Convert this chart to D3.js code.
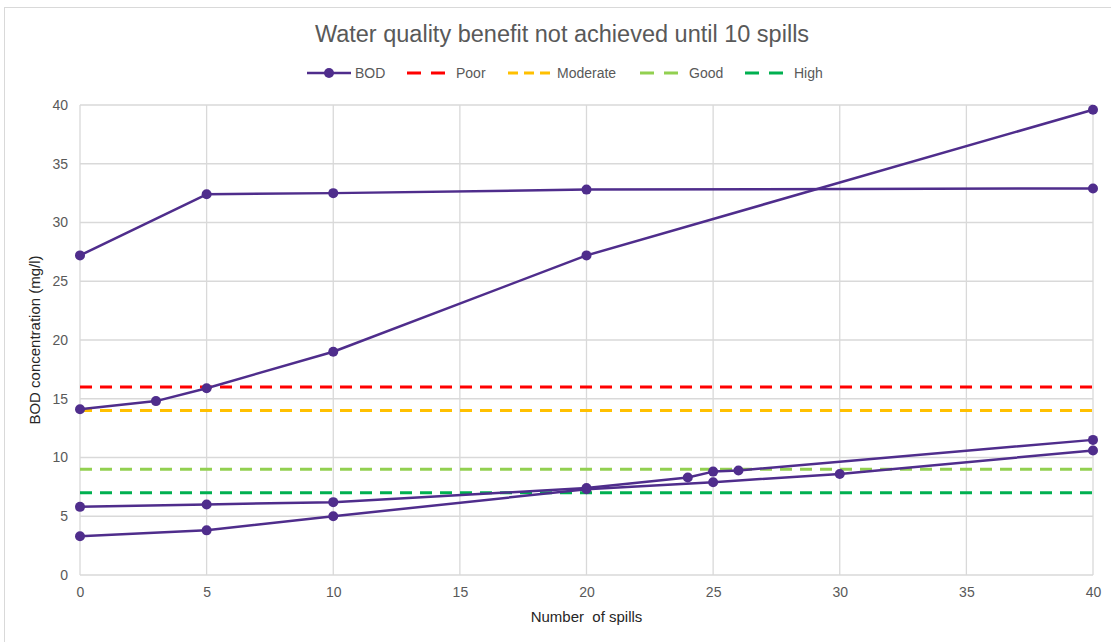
<!DOCTYPE html>
<html>
<head>
<meta charset="utf-8">
<script src="https://cdn.jsdelivr.net/npm/d3@7"></script>
<style>
  html, body { margin: 0; padding: 0; background: #fff; }
  svg { display: block; font-family: "Liberation Sans", Arial, sans-serif; }
</style>
</head>
<body>
<svg id="chart" width="1111" height="642"></svg>
<script>
// BOD concentration profiles (mg/l) against number of spills
const bodSeries = [
  { spills: [0, 5, 10, 20, 40],                values: [27.2, 32.4, 32.5, 32.8, 32.9] },
  { spills: [0, 3, 5, 10, 20, 40],             values: [14.1, 14.8, 15.9, 19.0, 27.2, 39.6] },
  { spills: [0, 5, 10, 20, 24, 25, 26, 40],    values: [5.8, 6.0, 6.2, 7.4, 8.3, 8.8, 8.9, 11.5] },
  { spills: [0, 5, 10, 20, 25, 30, 40],        values: [3.3, 3.8, 5.0, 7.3, 7.9, 8.6, 10.6] }
];

// Water quality class thresholds (mg/l)
const classNames = ["Poor", "Moderate", "Good", "High"];
const classValues = [16, 14, 9, 7];
const classColors = ["#FF0000", "#FFC000", "#92D050", "#00B050"];

const xTicks = [0, 5, 10, 15, 20, 25, 30, 35, 40];
const yTicks = [0, 5, 10, 15, 20, 25, 30, 35, 40];

const chartTitle = "Water quality benefit not achieved until 10 spills";
const xTitle = "Number  of spills";
const yTitle = "BOD concentration (mg/l)";
const bodColor = "#4F2D8C";
const textColor = "#595959";
const gridColor = "#D9D9D9";

const svg = d3.select("#chart");

// chart area border
svg.append("rect")
  .attr("x", 4.5).attr("y", 7.5)
  .attr("width", 1120).attr("height", 660)
  .attr("fill", "none").attr("stroke", "#D9D9D9").attr("stroke-width", 1);

const plot = { left: 80, right: 1093, top: 105, bottom: 575 };

const x = d3.scaleLinear().domain([0, 40]).range([plot.left, plot.right]);
const y = d3.scaleLinear().domain([0, 40]).range([plot.bottom, plot.top]);

// gridlines
const grid = svg.append("g");
grid.selectAll("line.h").data(yTicks).join("line")
  .attr("x1", plot.left).attr("x2", plot.right)
  .attr("y1", d => y(d)).attr("y2", d => y(d))
  .attr("stroke", gridColor).attr("stroke-width", 1.3);
grid.selectAll("line.v").data(xTicks).join("line")
  .attr("y1", plot.top).attr("y2", plot.bottom)
  .attr("x1", d => x(d)).attr("x2", d => x(d))
  .attr("stroke", gridColor).attr("stroke-width", 1.3);

// axes (labels only)
const xAxis = svg.append("g")
  .attr("transform", `translate(0,${plot.bottom})`)
  .call(d3.axisBottom(x).tickValues(xTicks).tickSize(0).tickPadding(12));
const yAxis = svg.append("g")
  .attr("transform", `translate(${plot.left},0)`)
  .call(d3.axisLeft(y).tickValues(yTicks).tickSize(0).tickPadding(12));
[xAxis, yAxis].forEach(a => {
  a.select(".domain").remove();
  a.selectAll("text").attr("fill", textColor).style("font-size", "14px")
    .style("font-family", '"Liberation Sans", Arial, sans-serif');
});

// threshold lines
svg.append("g").selectAll("line").data(classValues).join("line")
  .attr("x1", plot.left).attr("x2", plot.right)
  .attr("y1", d => y(d)).attr("y2", d => y(d))
  .attr("stroke", (d, i) => classColors[i])
  .attr("stroke-width", 3)
  .attr("stroke-dasharray", "12,8");

// BOD lines and markers
const line = d3.line().x(d => x(d[0])).y(d => y(d[1]));
const seriesG = svg.append("g");
bodSeries.forEach(s => {
  const pts = s.spills.map((v, i) => [v, s.values[i]]);
  seriesG.append("path").datum(pts)
    .attr("d", line).attr("fill", "none")
    .attr("stroke", bodColor).attr("stroke-width", 2.5)
    .attr("stroke-linejoin", "round");
  seriesG.selectAll(null).data(pts).join("circle")
    .attr("cx", d => x(d[0])).attr("cy", d => y(d[1]))
    .attr("r", 5).attr("fill", bodColor);
});

// title
svg.append("text")
  .attr("x", 562).attr("y", 42)
  .attr("text-anchor", "middle")
  .attr("fill", textColor).style("font-size", "23.5px")
  .text(chartTitle);

// axis titles
svg.append("text")
  .attr("x", x(20)).attr("y", 622)
  .attr("text-anchor", "middle")
  .attr("fill", "#262626").style("font-size", "15px")
  .attr("xml:space", "preserve")
  .style("white-space", "pre")
  .text(xTitle);
svg.append("text")
  .attr("transform", `translate(40,${(plot.top + plot.bottom) / 2}) rotate(-90)`)
  .attr("text-anchor", "middle")
  .attr("fill", "#262626").style("font-size", "15px")
  .text(yTitle);

// legend
const legendY = 73;
const legend = svg.append("g").style("font-size", "14px");
const bodItem = legend.append("g");
bodItem.append("line").attr("x1", 307).attr("x2", 351).attr("y1", legendY).attr("y2", legendY)
  .attr("stroke", bodColor).attr("stroke-width", 2.5);
bodItem.append("circle").attr("cx", 329).attr("cy", legendY).attr("r", 5).attr("fill", bodColor);
bodItem.append("text").attr("x", 355).attr("y", legendY + 5).attr("fill", textColor).text("BOD");

const legendPos = [
  { x1: 407, x2: 445, tx: 456 },
  { x1: 508, x2: 552, tx: 557 },
  { x1: 640, x2: 678, tx: 689 },
  { x1: 745, x2: 783, tx: 794 }
];
classNames.forEach((name, i) => {
  const p = legendPos[i];
  const dash = i === 1 ? "10,6" : "14,10";
  legend.append("line").attr("x1", p.x1).attr("x2", p.x2)
    .attr("y1", legendY).attr("y2", legendY)
    .attr("stroke", classColors[i]).attr("stroke-width", 3)
    .attr("stroke-dasharray", dash);
  legend.append("text").attr("x", p.tx).attr("y", legendY + 5)
    .attr("fill", textColor).text(name);
});
</script>
</body>
</html>
